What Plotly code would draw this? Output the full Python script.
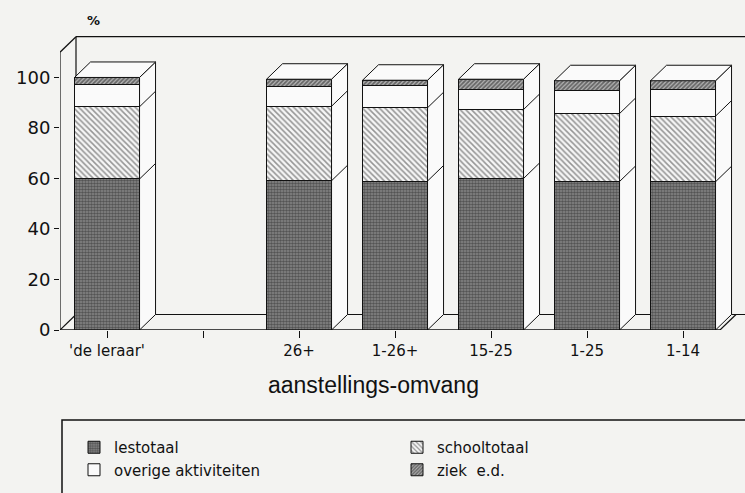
import plotly.graph_objects as go

# ---- data ----
tick_labels = ["'de leraar'", "", "26+", "1-26+", "15-25", "1-25", "1-14"]
categories = ["'de leraar'", "26+", "1-26+", "15-25", "1-25", "1-14"]
lestotaal = [59.8, 59.1, 59.0, 60.0, 58.8, 58.7]
schooltotaal = [28.6, 29.5, 29.0, 27.3, 26.9, 26.0]
overige = [9.0, 8.0, 9.0, 7.9, 9.0, 10.7]
ziek = [2.6, 2.7, 1.9, 4.1, 4.0, 3.3]
y_ticks = [0, 20, 40, 60, 80, 100]

# ---- geometry / style ----
W, H = 745, 493
ML, MR, MT, MB = 60, 0, 32, 163
px_per_x = 96.0
XMIN = -0.49
XMAX = XMIN + (W - ML - MR) / px_per_x
YMAX = 118
px_per_y = (H - MT - MB) / YMAX
DX = 16 / px_per_x
DY = 15.5 / px_per_y
BW = 0.677
FRONT_END = 6.385
AXIS_TOP = 110

BG = "#f3f3f1"
FACE = "#fafafa"
FONT = "DejaVu Sans"

xs = [tick_labels.index(c) for c in categories]

series = [
    ("lestotaal", lestotaal, dict(color="#8a8a8a", pattern=dict(shape=".", fgcolor="#1e1e1e", size=3, solidity=0.6))),
    ("schooltotaal", schooltotaal, dict(color="#f6f6f6", pattern=dict(shape="\\", fgcolor="#333", size=4, solidity=0.38))),
    ("overige aktiviteiten", overige, dict(color=FACE)),
    ("ziek  e.d.", ziek, dict(color="#b5b5b5", pattern=dict(shape="/", fgcolor="#1a1a1a", size=3, solidity=0.6))),
]

fig = go.Figure()
for name, vals, mk in series:
    fig.add_trace(go.Bar(
        x=xs, y=vals, name=name, width=BW,
        marker=dict(**mk, line=dict(color="#111", width=1)),
    ))

# 3D side and top faces, derived from the data
for i, x in enumerate(xs):
    xl, xr = x - BW / 2, x + BW / 2
    bounds = []
    acc = 0
    for _, vals, _ in series:
        acc += vals[i]
        bounds.append(acc)
    T = bounds[-1]
    fig.add_trace(go.Scatter(
        x=[xr, xr + DX, xr + DX, xr, xr], y=[0, DY, T + DY, T, 0],
        mode="lines", fill="toself", fillcolor=FACE,
        line=dict(color="#111", width=1), showlegend=False, hoverinfo="skip"))
    fig.add_trace(go.Scatter(
        x=[xl, xl + DX, xr + DX, xr, xl], y=[T, T + DY, T + DY, T, T],
        mode="lines", fill="toself", fillcolor=FACE,
        line=dict(color="#111", width=1), showlegend=False, hoverinfo="skip"))
    sx, sy = [], []
    for b in bounds[:-2]:
        sx += [xr, xr + DX, None]
        sy += [b, b + DY, None]
    fig.add_trace(go.Scatter(x=sx, y=sy, mode="lines",
                             line=dict(color="#111", width=1),
                             showlegend=False, hoverinfo="skip"))

# frame (walls and floor)
def seg(x0, y0, x1, y1, w=1.2):
    fig.add_shape(type="line", xref="x", yref="y", x0=x0, y0=y0, x1=x1, y1=y1,
                  line=dict(color="#111", width=w), layer="below")

seg(XMIN, 0, XMIN, AXIS_TOP)
seg(XMIN, AXIS_TOP, XMIN + DX, AXIS_TOP + DY)
seg(XMIN, 0, XMIN + DX, DY)
seg(XMIN + DX, DY, XMIN + DX, AXIS_TOP + DY)
seg(XMIN + DX, AXIS_TOP + DY, XMAX, AXIS_TOP + DY)
seg(XMIN + DX, DY, XMAX, DY)
seg(FRONT_END, 0, FRONT_END + DX, DY)
fig.add_shape(type="line", xref="x", yref="y", x0=XMIN, y0=0, x1=FRONT_END, y1=0,
              line=dict(color="#111", width=1.5), layer="above")

# legend box
def py(pixel_y):
    return (H - MB - pixel_y) / (H - MT - MB)

def pxp(pixel_x):
    return (pixel_x - ML) / (W - ML - MR)

fig.add_shape(type="rect", xref="paper", yref="paper",
              x0=pxp(62), x1=pxp(760), y0=py(420), y1=py(510),
              line=dict(color="#111", width=1.5), fillcolor="rgba(0,0,0,0)")

fig.add_annotation(text="<b>%</b>", xref="paper", yref="paper",
                   x=pxp(85), y=py(20), showarrow=False, yanchor="middle",
                   font=dict(family=FONT, size=13, color="#111"))
fig.add_annotation(text="aanstellings-omvang", xref="paper", yref="paper",
                   x=pxp(373), y=py(385), showarrow=False, yanchor="middle",
                   font=dict(family="Liberation Sans", size=23, color="#111"))

fig.update_layout(
    width=W, height=H, barmode="stack",
    margin=dict(l=ML, r=MR, t=MT, b=MB, autoexpand=False),
    paper_bgcolor=BG, plot_bgcolor=BG,
    showlegend=True,
    legend=dict(orientation="h", x=pxp(74), y=py(431), xanchor="left", yanchor="top",
                traceorder="normal", entrywidth=278, entrywidthmode="pixels",
                font=dict(family=FONT, size=15, color="#111"),
                bgcolor="rgba(0,0,0,0)", itemclick=False, tracegroupgap=0),
    xaxis=dict(range=[XMIN, XMAX], tickvals=list(range(len(tick_labels))),
               ticktext=tick_labels, ticks="outside", ticklen=7, tickcolor="#111",
               showgrid=False, zeroline=False, showline=False,
               tickfont=dict(family=FONT, size=15, color="#111")),
    yaxis=dict(range=[0, YMAX], tickvals=y_ticks, ticks="outside", ticklen=5,
               tickcolor="#111", showgrid=False, zeroline=False, showline=False,
               tickfont=dict(family=FONT, size=18, color="#111")),
)

fig.write_html("out.html", config={"displayModeBar": False},
               post_script="document.body.style.margin='0px';document.body.style.background='%s';" % BG)
